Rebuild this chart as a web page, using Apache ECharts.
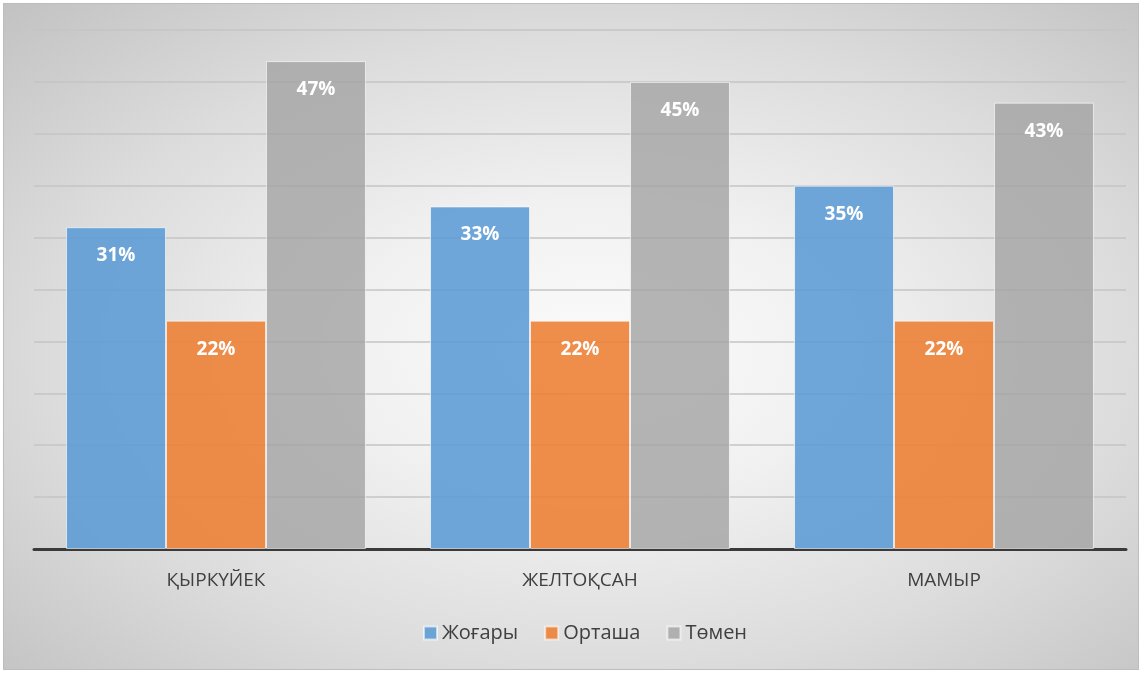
<!DOCTYPE html>
<html><head><meta charset="utf-8">
<script src="https://cdn.jsdelivr.net/npm/echarts@6/dist/echarts.min.js"></script>
<style>
html,body{margin:0;padding:0;background:#fff;}
#c{position:absolute;left:3px;top:3px;width:1136px;height:667px;border:1px solid #bdbdbd;box-sizing:border-box;
  background:radial-gradient(ellipse farthest-corner at 52% 52%, #fbfbfb 0%, #f1f1f1 30%, #dcdcdc 65%, #c2c2c2 100%);}
</style></head>
<body><div id="c"></div>
<script>
const categories = ['ҚЫРКҮЙЕК', 'ЖЕЛТОҚСАН', 'МАМЫР'];
const seriesNames = ['Жоғары', 'Орташа', 'Төмен'];
const high = [31, 33, 35];
const medium = [22, 22, 22];
const low = [47, 45, 43];
const colors = ['rgba(91,155,213,0.88)', 'rgba(237,125,49,0.88)', 'rgba(165,165,165,0.82)'];

const chart = echarts.init(document.getElementById('c'));
const mk = (name, data, i) => ({
  name, type: 'bar', data,
  barGap: '0%', barCategoryGap: '17.6%',
  itemStyle: { color: colors[i], borderColor: 'rgba(255,255,255,0.6)', borderWidth: 1 },
  label: { show: true, position: 'insideTop', distance: 19, formatter: '{c}%',
           color: '#fff', fontWeight: 'bold', fontSize: 19, fontFamily: 'Open Sans' },
  z: 3
});
chart.setOption({
  backgroundColor: 'transparent',
  animation: false,
  color: colors,
  grid: { left: 30, right: 12, top: 26, bottom: 120, containLabel: false },
  legend: { bottom: 21, left: 414, itemWidth: 13, itemHeight: 13, itemGap: 26, icon: 'rect',
    textStyle: { fontSize: 20, color: '#404040', fontFamily: 'Open Sans' }, data: seriesNames },
  xAxis: { type: 'category', data: categories,
    axisLine: { lineStyle: { color: '#3a3a3a', width: 3 } }, axisTick: { show: false },
    axisLabel: { fontSize: 19, color: '#404040', margin: 22, fontFamily: 'Open Sans' } },
  yAxis: { type: 'value', min: 0, max: 50, interval: 5,
    axisLabel: { show: false }, axisLine: { show: false }, axisTick: { show: false },
    splitLine: { lineStyle: { color: '#c4c4c4', width: 1.5 } } },
  series: [mk(seriesNames[0], high, 0), mk(seriesNames[1], medium, 1), mk(seriesNames[2], low, 2)]
});
</script></body></html>
